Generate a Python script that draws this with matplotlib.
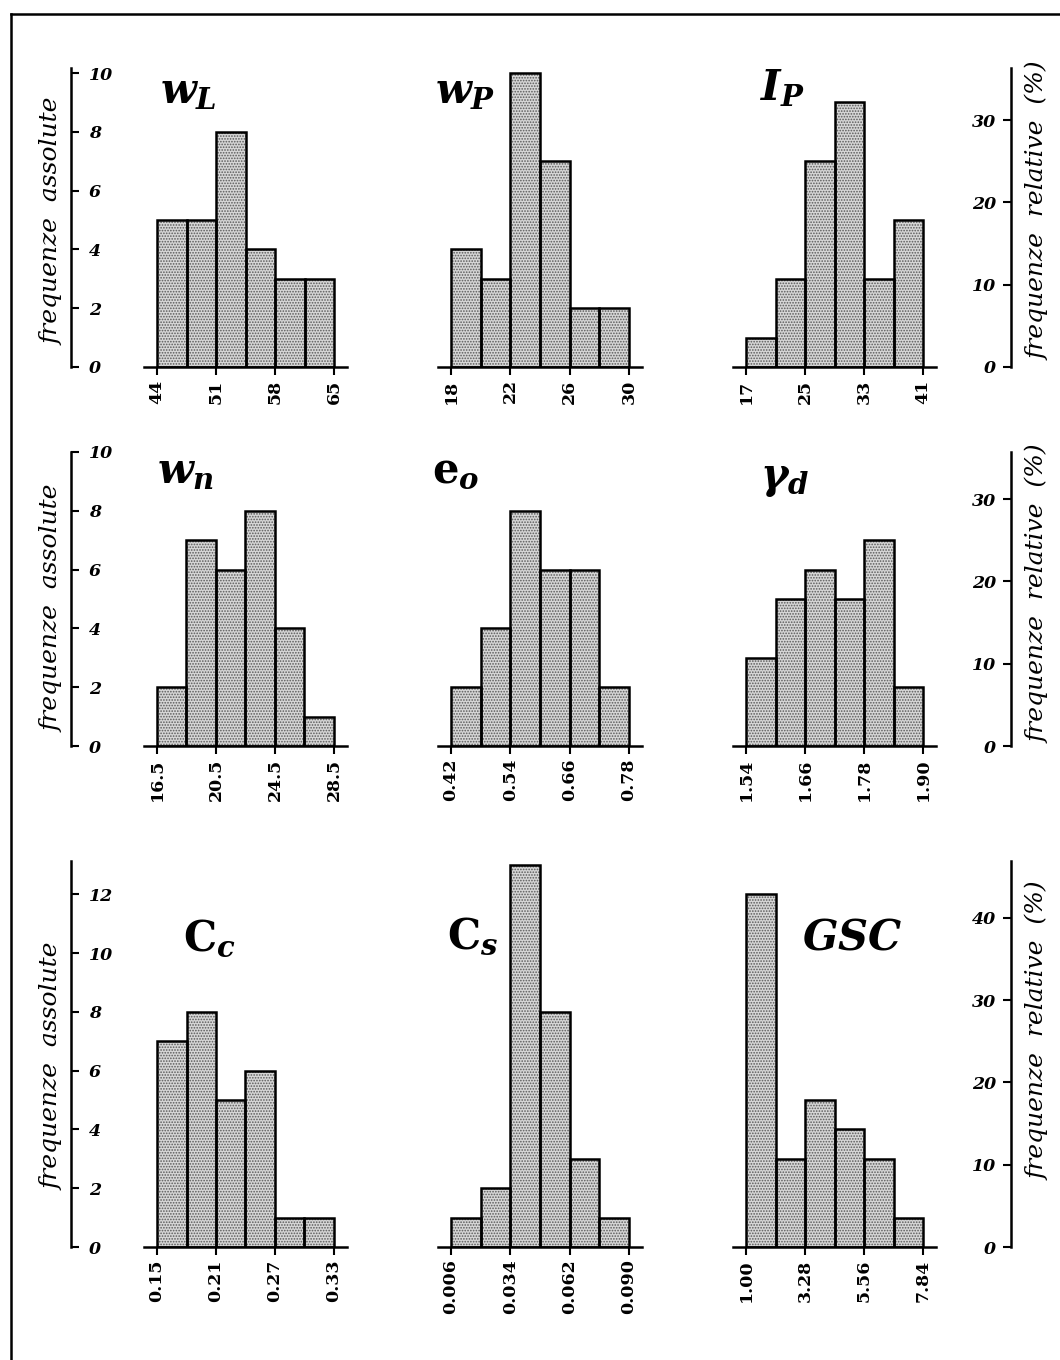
import matplotlib
matplotlib.use("Agg")
import matplotlib.pyplot as plt
from matplotlib.lines import Line2D

plt.rcParams['mathtext.fontset'] = 'custom'
plt.rcParams['mathtext.it'] = 'DejaVu Serif:italic:bold'
plt.rcParams['mathtext.rm'] = 'DejaVu Serif:bold'
plt.rcParams['mathtext.bf'] = 'DejaVu Serif:bold'
plt.rcParams['hatch.linewidth'] = 0.8

N_SAMPLES = 28

# ---------------- data ----------------
wL_edges = [44, 47.5, 51, 54.5, 58, 61.5, 65]
wL_counts = [5, 5, 8, 4, 3, 3]
wL_ticks = ['44', '51', '58', '65']

wP_edges = [18, 20, 22, 24, 26, 28, 30]
wP_counts = [4, 3, 10, 7, 2, 2]
wP_ticks = ['18', '22', '26', '30']

IP_edges = [17, 21, 25, 29, 33, 37, 41]
IP_counts = [1, 3, 7, 9, 3, 5]
IP_ticks = ['17', '25', '33', '41']

wn_edges = [16.5, 18.5, 20.5, 22.5, 24.5, 26.5, 28.5]
wn_counts = [2, 7, 6, 8, 4, 1]
wn_ticks = ['16.5', '20.5', '24.5', '28.5']

e0_edges = [0.42, 0.48, 0.54, 0.60, 0.66, 0.72, 0.78]
e0_counts = [2, 4, 8, 6, 6, 2]
e0_ticks = ['0.42', '0.54', '0.66', '0.78']

gd_edges = [1.54, 1.60, 1.66, 1.72, 1.78, 1.84, 1.90]
gd_counts = [3, 5, 6, 5, 7, 2]
gd_ticks = ['1.54', '1.66', '1.78', '1.90']

Cc_edges = [0.15, 0.18, 0.21, 0.24, 0.27, 0.30, 0.33]
Cc_counts = [7, 8, 5, 6, 1, 1]
Cc_ticks = ['0.15', '0.21', '0.27', '0.33']

Cs_edges = [0.006, 0.020, 0.034, 0.048, 0.062, 0.076, 0.090]
Cs_counts = [1, 2, 13, 8, 3, 1]
Cs_ticks = ['0.006', '0.034', '0.062', '0.090']

GSC_edges = [1.00, 2.14, 3.28, 4.42, 5.56, 6.70, 7.84]
GSC_counts = [12, 3, 5, 4, 3, 1]
GSC_ticks = ['1.00', '3.28', '5.56', '7.84']

titles = [[r'$w_L$', r'$w_P$', r'$I_P$'],
          [r'$w_n$', r'$\mathrm{e}_o$', r'$\gamma_d$'],
          [r'$\mathrm{C}_c$', r'$\mathrm{C}_s$', r'$GSC$']]

panels = [[(wL_edges, wL_counts, wL_ticks), (wP_edges, wP_counts, wP_ticks), (IP_edges, IP_counts, IP_ticks)],
          [(wn_edges, wn_counts, wn_ticks), (e0_edges, e0_counts, e0_ticks), (gd_edges, gd_counts, gd_ticks)],
          [(Cc_edges, Cc_counts, Cc_ticks), (Cs_edges, Cs_counts, Cs_ticks), (GSC_edges, GSC_counts, GSC_ticks)]]

left_ticks = [[0, 2, 4, 6, 8, 10], [0, 2, 4, 6, 8, 10], [0, 2, 4, 6, 8, 10, 12]]
right_ticks = [[0, 10, 20, 30], [0, 10, 20, 30], [0, 10, 20, 30, 40]]

# ---------------- layout (pixels) ----------------
W, H = 1060, 1360
PPC = 29.4
row_base = [367, 746, 1247]
row_top = [68, 452, 861]
col_start = [157, 451, 746]
col_end = [334, 629, 923]
PAD = 13
left_spine_x = 71
right_spine_x = 1011

title_pos = [[(160, 103), (435, 103), (760, 100)],
             [(157, 483), (432, 482), (760, 488)],
             [(183, 950), (447, 948), (802, 950)]]
left_label_y = [221, 608, 1066]
right_label_y = [211, 594, 1031]

serif = 'DejaVu Serif'


def fr(x0, y_top, w, h):
    return [x0 / W, 1 - (y_top + h) / H, w / W, h / H]


fig = plt.figure(figsize=(W / 100, H / 100), dpi=100)

for r in range(3):
    base = row_base[r]
    top = row_top[r]
    hpx = base - top
    ymax = hpx / PPC
    for c in range(3):
        edges, counts, tlabels = panels[r][c]
        x0, x1 = col_start[c], col_end[c]
        e0, eN = edges[0], edges[-1]
        padd = PAD * (eN - e0) / (x1 - x0)
        ax = fig.add_axes(fr(x0 - PAD, top, (x1 - x0) + 2 * PAD, hpx))
        ax.set_xlim(e0 - padd, eN + padd)
        ax.set_ylim(0, ymax)
        widths = [edges[i + 1] - edges[i] for i in range(len(counts))]
        ax.bar(edges[:-1], counts, width=widths, align='edge',
               facecolor='#d6d6d6', edgecolor='#5a5a5a', hatch='......',
               linewidth=0, zorder=2)
        ax.bar(edges[:-1], counts, width=widths, align='edge',
               fill=False, edgecolor='black', linewidth=1.8, zorder=3)
        for s in ['left', 'right', 'top']:
            ax.spines[s].set_visible(False)
        ax.spines['bottom'].set_linewidth(1.8)
        ax.set_yticks([])
        ax.set_xticks(edges[::2])
        ax.set_xticklabels(tlabels, rotation=90, family=serif,
                           fontweight='bold', fontsize=12.5)
        ax.tick_params(axis='x', length=6, width=1.5, pad=3)
        ax.patch.set_alpha(0)
        tx, ty = title_pos[r][c]
        fig.text(tx / W, 1 - ty / H, titles[r][c], fontsize=30,
                 ha='left', va='baseline')

    # left axis (absolute frequencies)
    axl = fig.add_axes(fr(left_spine_x, top, 1, hpx))
    axl.set_ylim(0, ymax)
    axl.set_xticks([])
    for s in ['right', 'top', 'bottom']:
        axl.spines[s].set_visible(False)
    axl.spines['left'].set_linewidth(1.8)
    axl.set_yticks(left_ticks[r])
    axl.set_yticklabels([str(v) for v in left_ticks[r]], family=serif,
                        fontweight='bold', fontstyle='italic', fontsize=12.5)
    axl.tick_params(axis='y', left=True, right=False, labelleft=False,
                    labelright=True, direction='in', length=6, width=1.5, pad=12)
    axl.patch.set_alpha(0)
    fig.text(52 / W, 1 - left_label_y[r] / H, 'frequenze  assolute',
             rotation=90, ha='center', va='center', family=serif,
             fontstyle='italic', fontsize=18)

    # right axis (relative frequencies)
    axr = fig.add_axes(fr(right_spine_x - 1, top, 1, hpx))
    axr.set_ylim(0, ymax * 100 / N_SAMPLES)
    axr.set_xticks([])
    for s in ['left', 'top', 'bottom']:
        axr.spines[s].set_visible(False)
    axr.spines['right'].set_linewidth(1.8)
    axr.set_yticks(right_ticks[r])
    axr.set_yticklabels([str(v) for v in right_ticks[r]], family=serif,
                        fontweight='bold', fontstyle='italic', fontsize=12.5)
    axr.tick_params(axis='y', left=False, right=True, labelleft=True,
                    labelright=False, direction='in', length=6, width=1.5, pad=10)
    axr.patch.set_alpha(0)
    fig.text(1038 / W, 1 - right_label_y[r] / H, 'frequenze  relative  (%)',
             rotation=90, ha='center', va='center', family=serif,
             fontstyle='italic', fontsize=18)

# page border (top and left)
fig.add_artist(Line2D([11 / W, 11 / W], [0, 1 - 14 / H], color='black',
                      linewidth=1.8, transform=fig.transFigure))
fig.add_artist(Line2D([11 / W, 1], [1 - 14 / H, 1 - 14 / H], color='black',
                      linewidth=1.8, transform=fig.transFigure))

fig.savefig('out.png', dpi=100)
